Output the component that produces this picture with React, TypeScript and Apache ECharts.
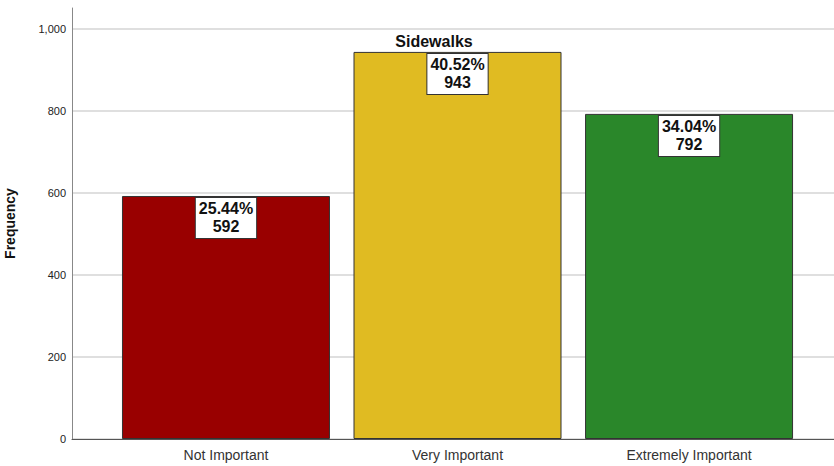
import React, { useEffect, useRef } from "react";
import * as echarts from "echarts";

const categories = ["Not Important", "Very Important", "Extremely Important"];
const frequencies = [592, 943, 792];
const percents = ["25.44%", "40.52%", "34.04%"];
const barColors = ["#990000", "#e0bb22", "#2a872a"];
const chartTitle = "Sidewalks";
const yName = "Frequency";

export default function App() {
  const ref = useRef<HTMLDivElement>(null);
  useEffect(() => {
    if (!ref.current) return;
    const chart = echarts.init(ref.current, null, { renderer: "svg" });
    chart.setOption({
      animation: false,
      title: {
        text: chartTitle,
        left: 429,
        top: 28,
        textAlign: "center",
        textStyle: { fontFamily: "Liberation Sans", fontSize: 16, fontWeight: "bold", color: "#111" },
      },
      grid: { left: 72, right: 0, top: 8, bottom: 27, containLabel: false, outerBoundsMode: "none" },
      xAxis: {
        type: "value",
        min: -0.665,
        max: 2.626,
        splitLine: { show: false },
        axisTick: { show: false },
        axisLine: { show: true, onZero: false, lineStyle: { color: "#555", width: 1 } },
        axisLabel: {
          customValues: [0, 1, 2],
          formatter: (v: number) => categories[Math.round(v)] ?? "",
          fontFamily: "Liberation Sans",
          fontSize: 14,
          color: "#333",
          margin: 9,
        },
      },
      yAxis: {
        type: "value",
        min: 0,
        max: 1050,
        interval: 200,
        name: yName,
        nameLocation: "middle",
        nameGap: 55,
        nameTextStyle: { fontFamily: "Liberation Sans", fontSize: 14, fontWeight: "bold", color: "#111" },
        axisLine: { show: true, onZero: false, lineStyle: { color: "#888", width: 1 } },
        axisTick: { show: false },
        axisLabel: {
          formatter: (v: number) => (v > 1000 ? "" : v.toLocaleString("en-US")),
          fontFamily: "Liberation Sans",
          fontSize: 11,
          color: "#222",
          margin: 6,
        },
        splitLine: { show: true, showMaxLine: false, lineStyle: { color: "#d4d4d4", width: 1.5 } },
      },
      series: [
        {
          type: "bar",
          barWidth: 208,
          data: frequencies.map((f, i) => ({
            value: [i, f],
            itemStyle: { color: barColors[i], borderColor: "#333", borderWidth: 1 },
          })),
          label: {
            show: true,
            position: "insideTop",
            distance: 2,
            formatter: (p: any) => `${percents[p.dataIndex]}\n${frequencies[p.dataIndex]}`,
            fontFamily: "Liberation Sans",
            fontSize: 16,
            fontWeight: "bold",
            lineHeight: 18,
            color: "#111",
            backgroundColor: "#fff",
            borderColor: "#333",
            borderWidth: 1,
            padding: [2, 3, 2, 3],
            align: "center",
          },
        },
      ],
    });
    return () => chart.dispose();
  }, []);
  return <div ref={ref} style={{ width: 834, height: 466, position: "absolute", left: 0, top: 0 }} />;
}
